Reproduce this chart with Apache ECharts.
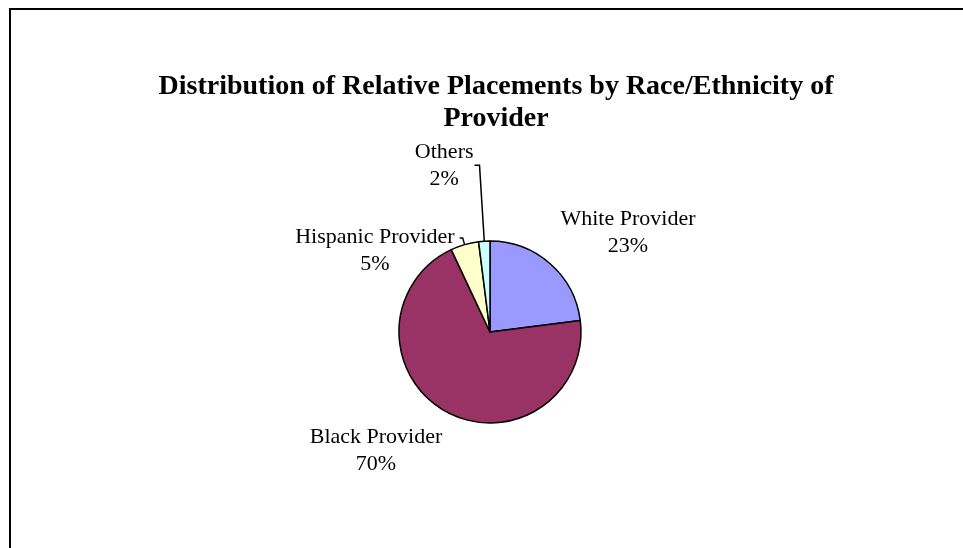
<!DOCTYPE html>
<html>
<head>
<meta charset="utf-8">
<script src="https://cdn.jsdelivr.net/npm/echarts@6/dist/echarts.min.js"></script>
<style>
  html, body { margin: 0; padding: 0; background: #fff; }
  #chart { width: 963px; height: 548px; }
</style>
</head>
<body>
<div id="chart"></div>
<script>
// Relative placements by provider race/ethnicity (percent of placements)
const categories = ['White Provider', 'Black Provider', 'Hispanic Provider', 'Others'];
const shares = [23, 70, 5, 2];
const sliceColors = ['#9999FF', '#993366', '#FFFFCC', '#CCFFFF'];
const chartTitle = 'Distribution of Relative Placements by Race/Ethnicity of\nProvider';

const SERIF = '"Liberation Serif", "Times New Roman", serif';

// Label placement for the two large slices (no leader lines)
const freeLabelPos = {
  0: { x: 628, y: 233 },
  1: { x: 376, y: 451 }
};

const chart = echarts.init(document.getElementById('chart'));

chart.setOption({
  backgroundColor: '#ffffff',
  animation: false,
  title: {
    text: chartTitle,
    left: 491,
    top: 66,
    textAlign: 'center',
    textStyle: {
      fontFamily: SERIF,
      fontWeight: 'bold',
      fontSize: 28,
      lineHeight: 32,
      color: '#000'
    }
  },
  graphic: [{
    type: 'rect',
    shape: { x: 10, y: 9, width: 1000, height: 600 },
    style: { fill: 'none', stroke: '#000', lineWidth: 2 },
    silent: true
  }],
  series: [{
    type: 'pie',
    center: [490, 332],
    radius: 91,
    startAngle: 90,
    clockwise: true,
    avoidLabelOverlap: false,
    itemStyle: { borderColor: '#000', borderWidth: 1.5 },
    label: {
      show: true,
      position: 'outside',
      fontFamily: SERIF,
      fontSize: 22,
      color: '#000',
      lineHeight: 27,
      distanceToLabelLine: 1,
      formatter: function (p) {
        return '{a|' + p.name + '}\n{a|' + p.value + '%}';
      },
      rich: {
        a: { fontFamily: SERIF, fontSize: 22, lineHeight: 27, color: '#000', align: 'center' }
      }
    },
    labelLine: {
      show: true,
      lineStyle: { color: '#000', width: 1.5 }
    },
    labelLayout: function (p) {
      const pos = freeLabelPos[p.dataIndex];
      if (pos) {
        return { x: pos.x, y: pos.y, align: 'center', verticalAlign: 'middle' };
      }
      return {};
    },
    data: categories.map(function (name, i) {
      const item = {
        name: name,
        value: shares[i],
        itemStyle: { color: sliceColors[i] }
      };
      if (i === 0 || i === 1) {
        item.labelLine = { show: false };
      } else if (i === 2) {
        item.labelLine = { show: true, length: 7, length2: 3 };
        item.label = { padding: [26, 0, 0, 0], distanceToLabelLine: 5 };
      } else {
        item.labelLine = { show: true, length: 76, length2: 5 };
      }
      return item;
    })
  }]
});
</script>
</body>
</html>
